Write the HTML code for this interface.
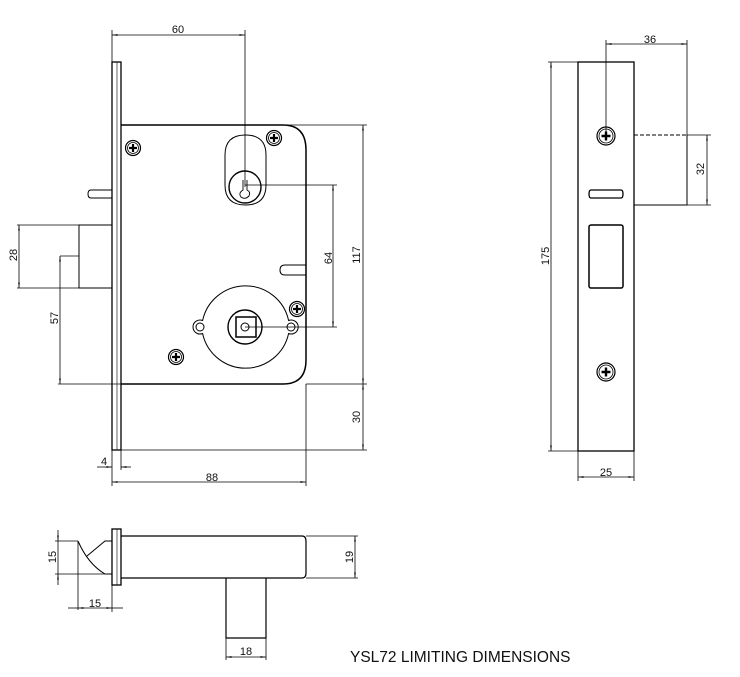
<!DOCTYPE html>
<html><head><meta charset="utf-8"><style>
html,body{margin:0;padding:0;background:#fff;}
svg{display:block;}
text{font-family:"Liberation Sans",sans-serif;font-size:11px;fill:#111;}
</style></head><body>
<svg width="740" height="677" viewBox="0 0 740 677" xmlns="http://www.w3.org/2000/svg">
<defs>
<marker id="a" viewBox="0 0 10 10" refX="10" refY="5" markerWidth="7" markerHeight="7" orient="auto-start-reverse"><path d="M0,3.5 L10,5 L0,6.5 z" fill="#000"/></marker>
<g id="scr"><circle r="7.5" fill="none" stroke="#000" stroke-width="1.2"/><circle r="5.5" fill="none" stroke="#000" stroke-width="0.8"/><path d="M-4,0 H4 M0,-4 V4" stroke="#000" stroke-width="2.2"/></g>
<g id="scr2"><circle r="9" fill="none" stroke="#000" stroke-width="1.2"/><circle r="7" fill="none" stroke="#000" stroke-width="0.8"/><path d="M-4.5,0 H4.5 M0,-4.5 V4.5" stroke="#000" stroke-width="2.4"/></g>
</defs>
<g fill="none" stroke="#000" stroke-width="1">
<rect x="112" y="62" width="9" height="388" stroke-width="1.3"/>
<line x1="117" y1="62" x2="117" y2="450" stroke-width="0.6"/>
<path d="M121,125 H283 Q306,125 306,150 V360 Q306,384 283,384 H121" stroke-width="1.5"/>
<path d="M112,190 H91 Q88,190 88,194 Q88,198 91,198 H112"/>
<path d="M225,155 Q225,135 245.5,135 Q266,135 266,155 V185 Q266,205 245.5,205 Q225,205 225,185 Z"/>
<circle cx="245" cy="187" r="16" stroke-width="1.4"/>
<path d="M243,180 V190 Q238,193 241,197 Q245,200 249,196 Q251,192 247,190 V180" stroke-width="0.9"/>
<path d="M306,265 H285 Q280,265 280,270 Q280,275 285,275 H306"/>
<path d="M202.6,320.5 A44,44 0 0 1 288.6,320.5 A7,7 0 1 1 288.6,333.5 A44,44 0 0 1 202.6,333.5 A7,7 0 1 1 202.6,320.5 Z"/>
<circle cx="200" cy="327" r="4"/>
<circle cx="291" cy="327" r="4"/>
<circle cx="245" cy="327" r="17" stroke-width="1.4"/>
<rect x="236" y="317" width="20" height="20" stroke-width="1.5"/>
<circle cx="245" cy="327" r="4"/>
<path d="M112,225 H79 V288 H112"/>
<line x1="112" y1="30" x2="112" y2="62" stroke-width="0.8"/>
<line x1="245" y1="30" x2="245" y2="187" stroke-width="0.8"/>
<line x1="112" y1="35" x2="245" y2="35" marker-start="url(#a)" marker-end="url(#a)" stroke-width="0.8"/>
<line x1="245" y1="185" x2="337" y2="185" stroke-width="0.8"/>
<line x1="245" y1="327" x2="337" y2="327" stroke-width="0.8"/>
<line x1="333" y1="185" x2="333" y2="327" marker-start="url(#a)" marker-end="url(#a)" stroke-width="0.8"/>
<line x1="283" y1="125" x2="367" y2="125" stroke-width="0.8"/>
<line x1="306" y1="384" x2="367" y2="384" stroke-width="0.8"/>
<line x1="121" y1="450" x2="367" y2="450" stroke-width="0.8"/>
<line x1="363" y1="125" x2="363" y2="384" marker-start="url(#a)" marker-end="url(#a)" stroke-width="0.8"/>
<line x1="363" y1="384" x2="363" y2="450" marker-start="url(#a)" marker-end="url(#a)" stroke-width="0.8"/>
<line x1="306" y1="384" x2="306" y2="486" stroke-width="0.8"/>
<line x1="112" y1="450" x2="112" y2="486" stroke-width="0.8"/>
<line x1="121" y1="450" x2="121" y2="470" stroke-width="0.8"/>
<line x1="112" y1="482" x2="306" y2="482" marker-start="url(#a)" marker-end="url(#a)" stroke-width="0.8"/>
<line x1="97" y1="467" x2="112" y2="467" marker-end="url(#a)" stroke-width="0.8"/>
<line x1="131" y1="467" x2="121" y2="467" marker-end="url(#a)" stroke-width="0.8"/>
<line x1="17" y1="225" x2="79" y2="225" stroke-width="0.8"/>
<line x1="17" y1="288" x2="79" y2="288" stroke-width="0.8"/>
<line x1="19" y1="225" x2="19" y2="288" marker-start="url(#a)" marker-end="url(#a)" stroke-width="0.8"/>
<line x1="60" y1="256" x2="79" y2="256" stroke-width="0.8"/>
<line x1="58" y1="384" x2="121" y2="384" stroke-width="0.8"/>
<line x1="60" y1="256" x2="60" y2="384" marker-start="url(#a)" marker-end="url(#a)" stroke-width="0.8"/>

<rect x="578" y="62" width="56" height="389" stroke-width="1.3"/>
<path d="M591,190 H621 Q623,190 623,194 Q623,198 621,198 H591 Q589,198 589,194 Q589,190 591,190 Z" stroke-width="1.3"/>
<rect x="589" y="225" width="34" height="63" rx="2" stroke-width="1.5"/>
<path d="M634,135 H687" stroke-dasharray="4,2"/>
<path d="M634,205 H687 V135"/>
<line x1="606" y1="40" x2="606" y2="136" stroke-width="0.8"/>
<line x1="687" y1="40" x2="687" y2="135" stroke-width="0.8"/>
<line x1="606" y1="44" x2="687" y2="44" marker-start="url(#a)" marker-end="url(#a)" stroke-width="0.8"/>
<line x1="687" y1="135" x2="711" y2="135" stroke-width="0.8"/>
<line x1="687" y1="205" x2="711" y2="205" stroke-width="0.8"/>
<line x1="707" y1="135" x2="707" y2="205" marker-start="url(#a)" marker-end="url(#a)" stroke-width="0.8"/>
<line x1="548" y1="62" x2="578" y2="62" stroke-width="0.8"/>
<line x1="548" y1="451" x2="578" y2="451" stroke-width="0.8"/>
<line x1="551" y1="62" x2="551" y2="451" marker-start="url(#a)" marker-end="url(#a)" stroke-width="0.8"/>
<line x1="578" y1="451" x2="578" y2="481" stroke-width="0.8"/>
<line x1="634" y1="451" x2="634" y2="481" stroke-width="0.8"/>
<line x1="578" y1="477" x2="634" y2="477" marker-start="url(#a)" marker-end="url(#a)" stroke-width="0.8"/>

<rect x="112" y="529" width="9" height="56" stroke-width="1.3"/>
<line x1="117" y1="529" x2="117" y2="585" stroke-width="0.6"/>
<path d="M121,536 H302 Q306,536 306,541 V573 Q306,578 302,578 H121" stroke-width="1.2"/>
<path d="M112,541 H105 L87,556 M78,541 Q88,564 105,574 H112" />
<line x1="78" y1="541" x2="78" y2="610" stroke-width="0.8"/>
<line x1="112" y1="585" x2="112" y2="612" stroke-width="0.8"/>
<line x1="55" y1="541" x2="78" y2="541" stroke-width="0.8"/>
<line x1="55" y1="574" x2="105" y2="574" stroke-width="0.8"/>
<line x1="58" y1="530" x2="58" y2="541" marker-end="url(#a)" stroke-width="0.8"/>
<line x1="58" y1="585" x2="58" y2="574" marker-end="url(#a)" stroke-width="0.8"/>
<line x1="58" y1="541" x2="58" y2="574" stroke-width="0.8"/>
<line x1="68" y1="608" x2="78" y2="608" stroke-width="0.8"/>
<line x1="78" y1="608" x2="112" y2="608" marker-start="url(#a)" marker-end="url(#a)" stroke-width="0.8"/>
<line x1="112" y1="608" x2="123" y2="608" stroke-width="0.8"/>
<line x1="306" y1="536" x2="358" y2="536" stroke-width="0.8"/>
<line x1="306" y1="578" x2="358" y2="578" stroke-width="0.8"/>
<line x1="355" y1="536" x2="355" y2="578" marker-start="url(#a)" marker-end="url(#a)" stroke-width="0.8"/>
<path d="M226,578 V638 H266 V578" stroke-width="1.2"/>
<line x1="226" y1="638" x2="226" y2="660" stroke-width="0.8"/>
<line x1="266" y1="638" x2="266" y2="660" stroke-width="0.8"/>
<line x1="226" y1="657" x2="266" y2="657" marker-start="url(#a)" marker-end="url(#a)" stroke-width="0.8"/>
</g>
<use href="#scr" x="133" y="148"/>
<use href="#scr" x="274" y="138"/>
<use href="#scr" x="297" y="309"/>
<use href="#scr" x="176" y="357"/>
<use href="#scr2" x="606" y="136"/>
<use href="#scr2" x="606" y="372"/>
<text x="178" y="33" text-anchor="middle">60</text>
<text x="212" y="481" text-anchor="middle">88</text>
<text x="104" y="465" text-anchor="middle">4</text>
<text transform="translate(332,258) rotate(-90)" text-anchor="middle">64</text>
<text transform="translate(360,255) rotate(-90)" text-anchor="middle">117</text>
<text transform="translate(360,417) rotate(-90)" text-anchor="middle">30</text>
<text transform="translate(17,255) rotate(-90)" text-anchor="middle">28</text>
<text transform="translate(58,318) rotate(-90)" text-anchor="middle">57</text>
<text x="650" y="43" text-anchor="middle">36</text>
<text transform="translate(704,169) rotate(-90)" text-anchor="middle">32</text>
<text transform="translate(549,256) rotate(-90)" text-anchor="middle">175</text>
<text x="606" y="476" text-anchor="middle">25</text>
<text transform="translate(56,557) rotate(-90)" text-anchor="middle">15</text>
<text x="95" y="607" text-anchor="middle">15</text>
<text transform="translate(353,557) rotate(-90)" text-anchor="middle">19</text>
<text x="246" y="655" text-anchor="middle">18</text>
<text x="350" y="662" style="font-size:15.5px">YSL72 LIMITING DIMENSIONS</text>
</svg>
</body></html>
